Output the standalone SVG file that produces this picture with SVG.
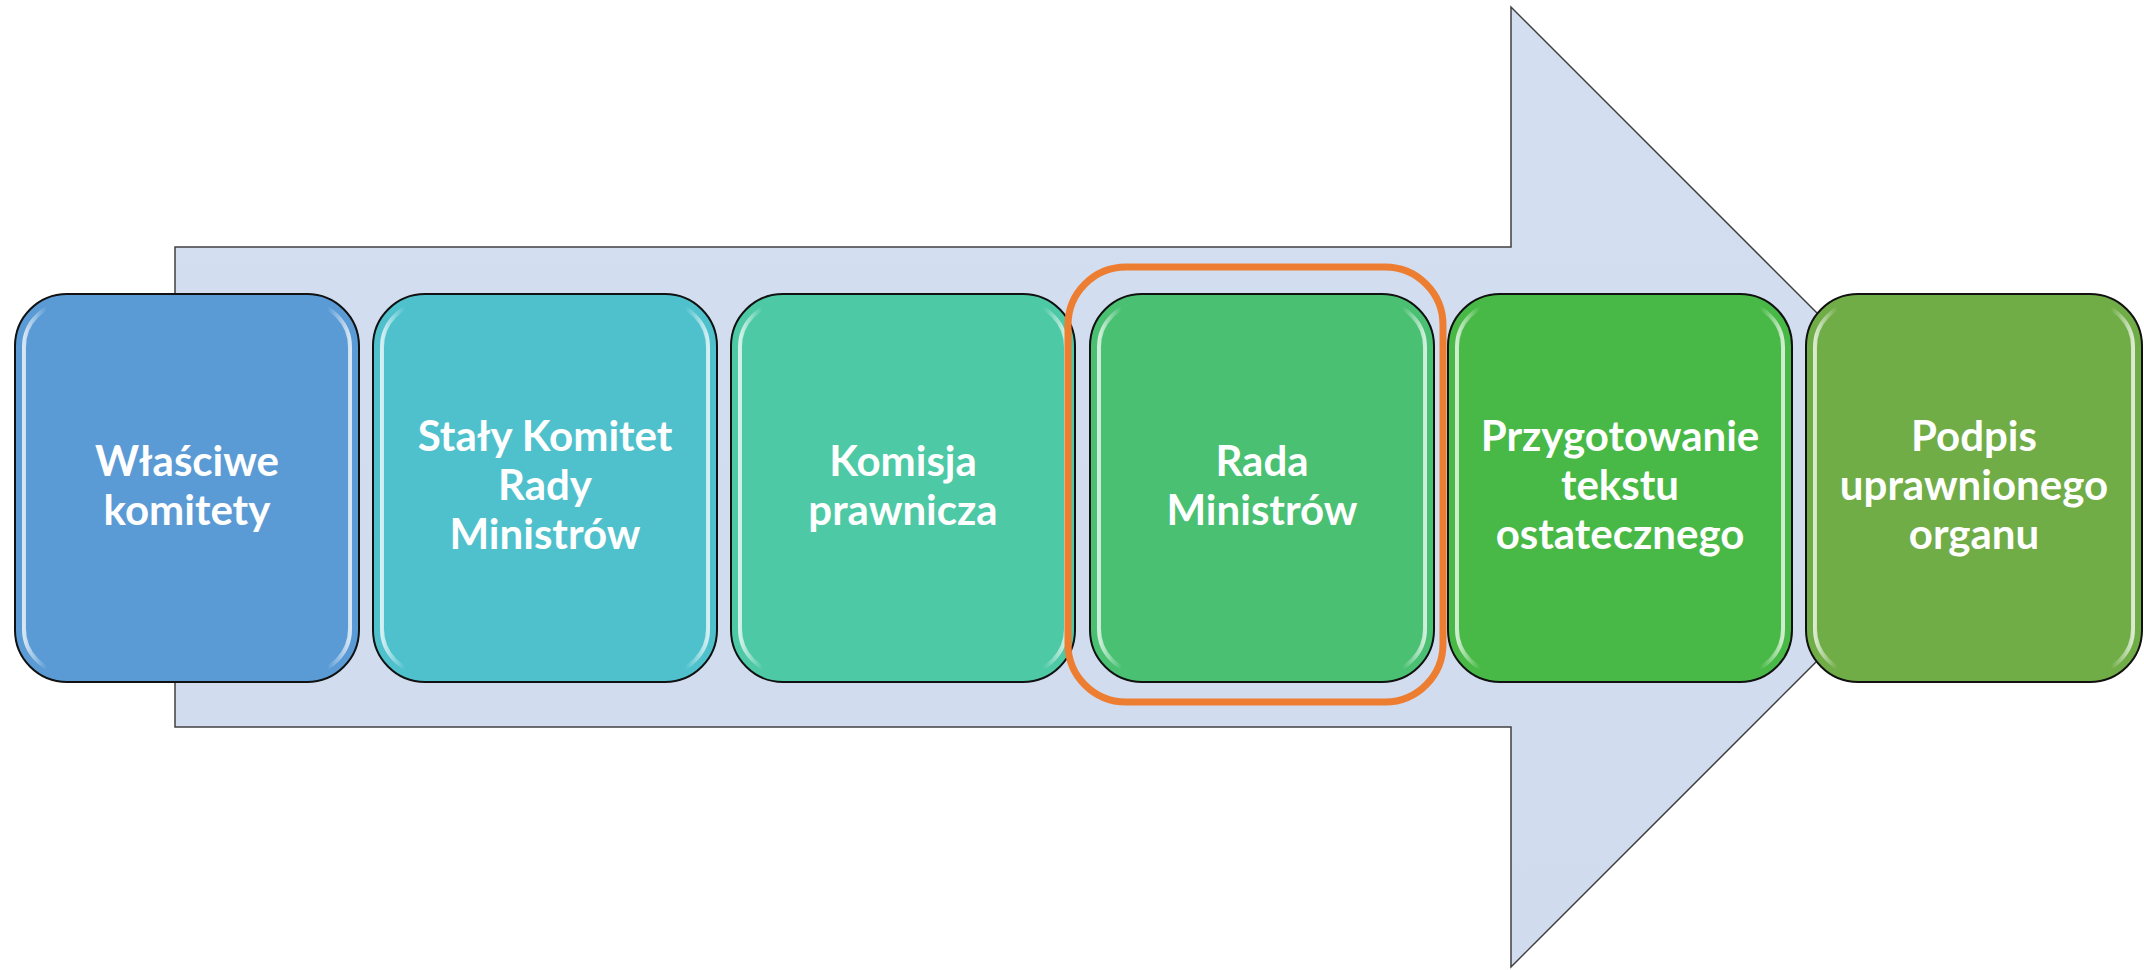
<svg xmlns="http://www.w3.org/2000/svg" width="2144" height="970" viewBox="0 0 2144 970">
<defs>
<linearGradient id="hl" x1="0" y1="0" x2="1" y2="0">
<stop offset="0" stop-color="#fff" stop-opacity="0.75"/>
<stop offset="0.07" stop-color="#fff" stop-opacity="0"/>
<stop offset="0.93" stop-color="#fff" stop-opacity="0"/>
<stop offset="1" stop-color="#fff" stop-opacity="0.75"/>
</linearGradient>
<linearGradient id="arrowFill" x1="0" y1="0" x2="0" y2="1">
<stop offset="0" stop-color="#D3DFF0"/>
<stop offset="1" stop-color="#D0DCEE"/>
</linearGradient>
<style>
.box{stroke:#111;stroke-width:2}
.hl{fill:none;stroke:url(#hl);stroke-width:4}
.lbl{font-family:Lato,"Open Sans","Liberation Sans",sans-serif;font-weight:bold;font-size:42px;fill:#fff;text-anchor:middle}
</style>
</defs>
<g id="big-arrow">
<path d="M175,247 L1511,247 L1511,7 L1991,487 L1511,967 L1511,727 L175,727 Z" fill="url(#arrowFill)" stroke="#404040" stroke-width="1.5"/>
</g>
<g id="connectors"></g>
<g id="node1">
<rect class="box" x="15" y="294" width="344" height="388" rx="52" fill="#5B9BD5"/>
<rect class="hl" x="24" y="303" width="326" height="370" rx="44"/>
<text class="lbl" x="187" y="476">Właściwe</text>
<text class="lbl" x="187" y="525">komitety</text>
</g>
<g id="node2">
<rect class="box" x="373" y="294" width="344" height="388" rx="52" fill="#4FC1CD"/>
<rect class="hl" x="382" y="303" width="326" height="370" rx="44"/>
<text class="lbl" x="545" y="451">Stały Komitet</text>
<text class="lbl" x="545" y="500">Rady</text>
<text class="lbl" x="545" y="549">Ministrów</text>
</g>
<g id="node3">
<rect class="box" x="731" y="294" width="344" height="388" rx="52" fill="#4DC9A5"/>
<rect class="hl" x="740" y="303" width="326" height="370" rx="44"/>
<text class="lbl" x="903" y="476">Komisja</text>
<text class="lbl" x="903" y="525">prawnicza</text>
</g>
<g id="highlight">
<rect x="1068" y="267" width="375" height="435" rx="58" fill="none" stroke="#ED7D31" stroke-width="7"/>
</g>
<g id="node4">
<rect class="box" x="1090" y="294" width="344" height="388" rx="52" fill="#4AC073"/>
<rect class="hl" x="1099" y="303" width="326" height="370" rx="44"/>
<text class="lbl" x="1262" y="476">Rada</text>
<text class="lbl" x="1262" y="525">Ministrów</text>
</g>
<g id="node5">
<rect class="box" x="1448" y="294" width="344" height="388" rx="52" fill="#48B946"/>
<rect class="hl" x="1457" y="303" width="326" height="370" rx="44"/>
<text class="lbl" x="1620" y="451">Przygotowanie</text>
<text class="lbl" x="1620" y="500">tekstu</text>
<text class="lbl" x="1620" y="549">ostatecznego</text>
</g>
<g id="node6">
<rect class="box" x="1806" y="294" width="336" height="388" rx="52" fill="#70AD47"/>
<rect class="hl" x="1815" y="303" width="318" height="370" rx="44"/>
<text class="lbl" x="1974" y="451">Podpis</text>
<text class="lbl" x="1974" y="500">uprawnionego</text>
<text class="lbl" x="1974" y="549">organu</text>
</g>
</svg>
